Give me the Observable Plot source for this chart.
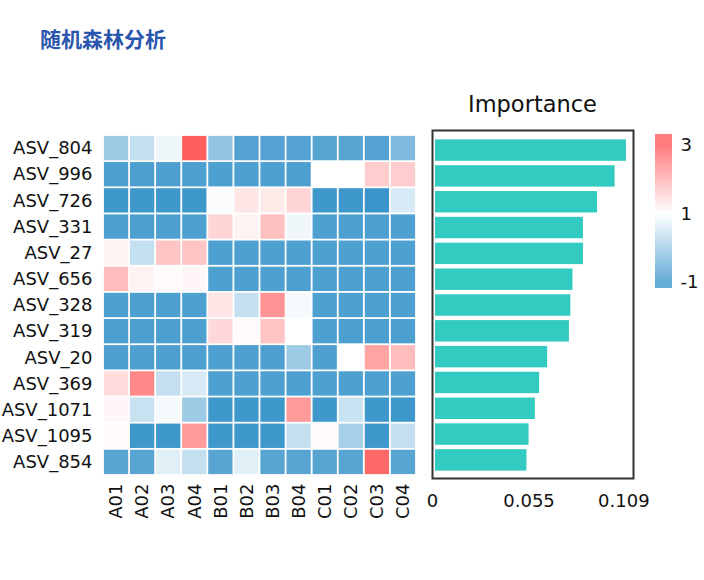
<!DOCTYPE html>
<html>
<head>
<meta charset="utf-8">
<script src="https://cdn.jsdelivr.net/npm/d3@7"></script>
<script src="https://cdn.jsdelivr.net/npm/@observablehq/plot@0.6"></script>
<style>
  html, body { margin: 0; padding: 0; background: #fff; }
  #wrap { position: relative; width: 704px; height: 580px; overflow: hidden; font-family: "DejaVu Sans", sans-serif; }
  #wrap > .layer { position: absolute; left: 0; top: 0; }
  #title { position: absolute; left: 40px; top: 25px; font-family: "Noto Sans CJK SC", sans-serif; font-weight: 700; font-size: 21px; color: #2a55ad; line-height: 26px; }
  #imp { position: absolute; left: 432px; width: 201px; top: 90px; text-align: center; font-family: "DejaVu Sans", sans-serif; font-size: 22.5px; color: #111; line-height: 28px; }
</style>
</head>
<body>
<div id="wrap">
  <div id="title">随机森林分析</div>
  <div id="imp">Importance</div>
</div>
<script>
// ---- data ----
const rows = ["ASV_804","ASV_996","ASV_726","ASV_331","ASV_27","ASV_656","ASV_328","ASV_319","ASV_20","ASV_369","ASV_1071","ASV_1095","ASV_854"];
const cols = ["A01","A02","A03","A04","B01","B02","B03","B04","C01","C02","C03","C04"];
const matrix = [
  [ 0.0,  0.4,  0.85, 2.9, -0.1, -0.75,-0.75,-0.75,-0.7, -0.7, -0.75,-0.3],
  [-0.8, -0.8, -0.8, -0.8, -0.8, -0.8, -0.8, -0.8,  1.0,  1.0,  1.6,  1.6],
  [-0.95,-0.95,-0.95,-0.95, 0.95, 1.3,  1.25, 1.5, -0.95,-0.95,-1.0,  0.6],
  [-0.8, -0.8, -0.8, -0.8,  1.5,  1.15, 1.75, 0.85,-0.8, -0.8, -0.8, -0.8],
  [ 1.15, 0.4,  1.7,  1.7, -0.8, -0.8, -0.8, -0.8, -0.8, -0.8, -0.8, -0.8],
  [ 1.8,  1.15, 1.05, 1.1, -0.8, -0.8, -0.8, -0.8, -0.8, -0.8, -0.8, -0.8],
  [-0.8, -0.8, -0.8, -0.8,  1.3,  0.4,  2.3,  0.9, -0.8, -0.8, -0.8, -0.8],
  [-0.8, -0.8, -0.8, -0.8,  1.45, 1.05, 1.7,  1.0, -0.8, -0.8, -0.8, -0.8],
  [-0.8, -0.8, -0.8, -0.8, -0.8, -0.8, -0.8,  0.0, -0.8,  1.0,  2.1,  1.8],
  [ 1.4,  2.4,  0.4,  0.6, -0.8, -0.8, -0.8, -0.8, -0.8, -0.8, -0.8, -0.8],
  [ 1.1,  0.45, 0.9,  0.0, -0.95,-0.95,-0.95, 2.2, -0.95, 0.45,-0.95,-0.95],
  [ 1.05,-0.95,-0.95, 2.2, -0.95,-0.95,-0.95, 0.4,  1.05, 0.1, -0.95, 0.4],
  [-0.7, -0.7,  0.7,  0.4, -0.7,  0.7, -0.7, -0.7, -0.7, -0.7,  2.8, -0.7]
];
const importance = [0.1105, 0.104, 0.094, 0.086, 0.086, 0.080, 0.0788, 0.078, 0.0656, 0.061, 0.0586, 0.055, 0.0538];
const xTicks = [0, 0.055, 0.109];
const legendTicks = [-1, 1, 3];

// ---- derived tables ----
const cells = rows.flatMap((r, i) => cols.map((c, j) => ({row: r, col: c, value: matrix[i][j]})));
const bars = rows.map((r, i) => ({row: r, imp: importance[i]}));
const colorOpts = {type: "linear", domain: [-1, 1, 3], range: ["#3a95cb", "#ffffff", "#ff5757"], clamp: true};

const wrap = document.getElementById("wrap");
function add(svg) { svg.classList.add("layer"); wrap.appendChild(svg); }

// ---- heatmap ----
add(Plot.plot({
  width: 430, height: 560,
  marginLeft: 103, marginRight: 14, marginTop: 135, marginBottom: 85,
  style: {background: "transparent", fontFamily: "DejaVu Sans, sans-serif", fontSize: "18px", color: "#111"},
  x: {domain: cols, padding: 0, round: false, tickSize: 0, tickPadding: 8, tickRotate: -90, label: null},
  y: {domain: rows, padding: 0, round: false, tickSize: 0, tickPadding: 11, label: null},
  color: colorOpts,
  marks: [
    Plot.cell(cells, {x: "col", y: "row", fill: "value", inset: 0.9})
  ]
}));

// ---- importance bars ----
add(Plot.plot({
  width: 704, height: 560,
  marginLeft: 432, marginRight: 71, marginTop: 135, marginBottom: 85,
  style: {background: "transparent", fontFamily: "DejaVu Sans, sans-serif", fontSize: "18px", color: "#111", overflow: "visible"},
  x: {domain: [0, 0.1145], ticks: xTicks, tickFormat: d => String(d), tickSize: 0, tickPadding: 19, label: null},
  y: {domain: rows, padding: 0.17, round: false, axis: null, label: null},
  marks: [
    Plot.barX(bars, {x: "imp", y: "row", fill: "#33cac2", insetLeft: 3}),
    Plot.frame({stroke: "#333", strokeWidth: 2, insetTop: -5, insetBottom: -3})
  ]
}));

// ---- colour legend ----
const steps = d3.range(-1.18, 3.32, 0.01);
add(Plot.plot({
  width: 704, height: 300,
  marginLeft: 655, marginRight: 32, marginTop: 134, marginBottom: 12,
  style: {background: "transparent", fontFamily: "DejaVu Sans, sans-serif", fontSize: "18px", color: "#111"},
  x: {domain: [0, 1], axis: null},
  y: {domain: [-1.18, 3.32], axis: "right", ticks: legendTicks, tickFormat: d => String(d), tickSize: 0, tickPadding: 8, label: null},
  color: colorOpts,
  marks: [
    Plot.rect(steps, {x1: 0, x2: 1, y1: d => d, y2: d => d + 0.012, fill: d => d})
  ]
}));
</script>
</body>
</html>
